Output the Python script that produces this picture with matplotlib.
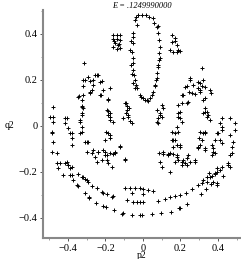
import matplotlib
matplotlib.use("Agg")
import matplotlib.pyplot as plt
from matplotlib.ticker import MultipleLocator

# Poincare section points (p2, q2)
ellipse_p = [-0.037, -0.027, -0.005, 0.016, 0.032, 0.053, 0.059, -0.043, -0.032, -0.053,
             -0.053, -0.053, -0.059, -0.053, -0.053, -0.053, -0.048, -0.043, -0.037, -0.032,
             -0.016, 0.0, 0.021, 0.037, 0.048, 0.053, 0.064, 0.069, 0.075, 0.080,
             0.085, 0.085, 0.091, 0.085, 0.080, 0.075, -0.064, -0.069, -0.064, -0.059,
             -0.053, -0.043, 0.027, 0.011, -0.011, 0.080, 0.091, 0.080, 0.075, 0.064]
ellipse_q = [0.474, 0.483, 0.483, 0.483, 0.474, 0.470, 0.448, 0.461, 0.439, 0.404,
             0.387, 0.361, 0.322, 0.296, 0.274, 0.243, 0.222, 0.200, 0.178, 0.165,
             0.135, 0.122, 0.113, 0.122, 0.135, 0.148, 0.178, 0.200, 0.230, 0.257,
             0.287, 0.317, 0.343, 0.374, 0.404, 0.430, 0.370, 0.330, 0.265, 0.226,
             0.187, 0.165, 0.109, 0.113, 0.126, 0.435, 0.296, 0.265, 0.209, 0.174]

left_island_p = [-0.160, -0.139, -0.123, -0.160, -0.139, -0.123, -0.149, -0.133, -0.160,
                 -0.139, -0.123, -0.155, -0.128]
left_island_q = [0.396, 0.396, 0.396, 0.378, 0.378, 0.374, 0.361, 0.352, 0.343,
                 0.335, 0.339, 0.370, 0.357]

right_island_p = [0.155, 0.171, 0.155, 0.181, 0.144, 0.160, 0.181, 0.197, 0.171, 0.187]
right_island_q = [0.396, 0.383, 0.365, 0.352, 0.330, 0.322, 0.322, 0.326, 0.370, 0.330]

outer_p = [-0.426, -0.389, -0.373, -0.347, -0.325, -0.309, -0.293, -0.347, -0.272, -0.245,
           -0.219, -0.192, -0.160, -0.309, -0.288, -0.251, -0.213, -0.155, -0.107, -0.096,
           -0.069, -0.043, -0.059, -0.085, -0.053, -0.032, -0.016, 0.0, 0.027, 0.053,
           0.0, -0.016, 0.0, 0.080, 0.117, 0.144, 0.171, 0.197, 0.229, 0.261,
           0.293, 0.320, 0.341, 0.368, 0.384, 0.395, 0.427, 0.363, 0.395, 0.336,
           0.309, 0.235, 0.192, 0.149, 0.096, 0.048, -0.016, 0.144, -0.059, -0.005,
           -0.197, -0.112, 0.197, -0.459, -0.453, -0.416, -0.400, -0.389, -0.379, -0.320,
           -0.299, -0.352, -0.288, -0.213, -0.165, 0.411, 0.421, 0.453, 0.464, 0.384,
           0.357, 0.341, 0.315, 0.373, 0.395, 0.352]
outer_q = [-0.213, -0.213, -0.235, -0.209, -0.222, -0.230, -0.244, -0.261, -0.261, -0.270,
           -0.287, -0.296, -0.304, -0.291, -0.313, -0.335, -0.348, -0.365, -0.378, -0.270,
           -0.270, -0.270, -0.291, -0.322, -0.330, -0.330, -0.270, -0.274, -0.278, -0.283,
           -0.296, -0.330, -0.330, -0.326, -0.317, -0.309, -0.304, -0.300, -0.291, -0.274,
           -0.257, -0.235, -0.222, -0.217, -0.209, -0.200, -0.217, -0.252, -0.257, -0.274,
           -0.296, -0.339, -0.357, -0.374, -0.378, -0.383, -0.387, -0.200, -0.387, -0.387,
           -0.352, -0.383, -0.357, -0.161, -0.183, -0.161, -0.170, -0.183, -0.213, -0.222,
           -0.235, -0.257, -0.309, -0.291, -0.309, -0.191, -0.178, -0.170, -0.126, -0.204,
           -0.222, -0.244, -0.248, -0.244, -0.248, -0.204]

sea_p = [-0.485, -0.480, -0.459, -0.379, -0.379, -0.336, -0.299, -0.267, -0.240, -0.245,
         -0.203, -0.192, -0.187, -0.176, -0.160, -0.149, -0.123, -0.096,
         0.304, 0.331, 0.395, 0.464, 0.475, 0.421, 0.373, 0.368, 0.331, 0.304, 0.293,
         0.091, 0.133, 0.160, 0.181, 0.197, 0.208, 0.224, 0.235, 0.251, 0.277,
         0.171, 0.160, 0.181, 0.107, 0.085,
         -0.341, -0.320, -0.283, -0.272, -0.224, -0.187, -0.325, -0.320, -0.325, -0.187,
         -0.176, -0.176, -0.160, -0.091, -0.085, -0.075, -0.091, -0.080, -0.069, -0.059,
         -0.480, -0.480, -0.485, -0.416, -0.416, -0.400, -0.389, -0.379, -0.336, -0.325,
         -0.325, -0.309, -0.293, -0.197, -0.187, -0.176, -0.203, -0.123, -0.299, -0.272,
         -0.256, -0.240, -0.213, -0.203, -0.176, -0.149, -0.219, -0.192, -0.165, -0.096,
         -0.485, -0.443, -0.405, -0.400, -0.379, -0.480,
         0.213, 0.245, 0.261, 0.277, 0.304, 0.331, 0.363, 0.101, 0.107, 0.091,
         0.101, 0.075, 0.080, 0.187, 0.208, 0.235, 0.187, 0.197, 0.208, 0.331,
         0.341, 0.320, 0.347, 0.357, 0.411, 0.421, 0.421, 0.491, 0.491, 0.480,
         0.475, 0.181, 0.187, 0.155, 0.155, 0.171, 0.197, 0.160, 0.144, 0.107,
         0.133, 0.181, 0.187, 0.208, 0.213, 0.240, 0.277, 0.235, 0.101, 0.171,
         0.299, 0.315, 0.320, 0.331, 0.384, 0.400, 0.368, 0.373, 0.384, 0.331,
         0.293, 0.411, 0.464, 0.453, 0.395,
         -0.315, -0.309, -0.293, -0.267, -0.245, -0.229, -0.347, -0.325, -0.283, -0.229,
         -0.187, -0.325, -0.325, -0.192, -0.187, -0.096, -0.085, -0.080, -0.496, -0.405,
         -0.336, -0.176, -0.107, -0.320, -0.283, -0.267, -0.219, -0.213, -0.176, -0.320,
         -0.256, -0.240,
         0.251, 0.224, 0.267, 0.293, 0.315, 0.304, 0.331, 0.357, 0.208, 0.240,
         0.320, 0.197, 0.331, 0.341, 0.075, 0.091, 0.080, 0.187, 0.421, 0.464,
         0.251, 0.304, 0.320, 0.235, 0.293, 0.315]
sea_q = [-0.030, -0.070, -0.117, -0.030, -0.083, -0.030, -0.070, -0.104, -0.113, -0.157,
         -0.113, -0.126, -0.161, -0.039, -0.122, -0.113, -0.087, -0.143,
         -0.026, -0.030, -0.030, -0.039, -0.091, -0.074, -0.096, -0.126, -0.096, -0.083, -0.096,
         -0.157, -0.122, -0.122, -0.135, -0.083, -0.157, -0.161, -0.139, -0.157, -0.157,
         -0.030, -0.061, -0.083, -0.122, -0.117,
         0.130, 0.135, 0.144, 0.157, 0.135, 0.117, 0.087, 0.078, 0.057, 0.065,
         0.057, 0.039, 0.017, 0.100, 0.087, 0.078, 0.057, 0.039, 0.022, 0.013,
         0.039, 0.017, -0.026, 0.035, 0.013, -0.009, -0.030, -0.052, 0.017, -0.004,
         -0.026, -0.070, -0.070, -0.026, -0.030, -0.052, -0.061, -0.091, -0.113, -0.117,
         -0.135, -0.113, -0.104, -0.126, -0.117, -0.117, -0.148, -0.148, -0.178, -0.148,
         -0.113, -0.161, -0.157, -0.170, -0.178, 0.083,
         0.135, 0.148, 0.144, 0.139, 0.148, 0.122, 0.144, 0.091, 0.078, 0.057,
         0.039, 0.017, 0.013, 0.091, 0.100, 0.100, 0.057, 0.035, 0.017, 0.078,
         0.061, 0.057, 0.048, 0.026, 0.013, -0.004, -0.017, 0.013, -0.017, -0.070,
         -0.117, -0.004, -0.026, -0.026, -0.061, -0.061, -0.091, -0.091, -0.117, -0.113,
         -0.126, -0.126, -0.148, -0.170, -0.148, -0.126, -0.148, -0.170, -0.178, -0.157,
         -0.052, -0.061, -0.030, -0.026, -0.061, -0.030, -0.083, -0.113, -0.117, -0.104,
         -0.091, -0.061, -0.178, -0.161, -0.183,
         0.274, 0.200, 0.213, 0.200, 0.222, 0.191, 0.126, 0.113, 0.148, 0.135,
         0.113, 0.083, 0.048, 0.070, 0.048, 0.100, 0.070, 0.048, 0.039, 0.035,
         0.026, 0.026, 0.035, 0.200, 0.196, 0.178, 0.196, 0.157, 0.165, 0.174,
         0.222, 0.222,
         0.200, 0.170, 0.178, 0.191, 0.252, 0.157, 0.170, 0.157, 0.135, 0.104,
         0.113, 0.061, 0.061, 0.039, 0.070, 0.048, 0.035, 0.039, 0.035, 0.035,
         0.209, 0.187, 0.200, 0.174, 0.165, 0.174]

groups = [(ellipse_p, ellipse_q), (left_island_p, left_island_q),
          (right_island_p, right_island_q), (outer_p, outer_q), (sea_p, sea_q)]

plt.rcParams['font.family'] = ['Liberation Serif', 'DejaVu Serif']

fig = plt.figure(figsize=(2.41, 2.59), dpi=100)
ax = fig.add_axes([43 / 241, 21 / 259, 198 / 241, 228 / 259])

for p, q in groups:
    ax.plot(p, q, '+', color='black', markersize=3.3, markeredgewidth=0.7)

ax.set_xlim(-0.533, 0.523)
ax.set_ylim(-0.487, 0.504)

for side in ['top', 'right']:
    ax.spines[side].set_visible(False)
for side in ['left', 'bottom']:
    ax.spines[side].set_color('#888888')
    ax.spines[side].set_linewidth(1.5)

ax.xaxis.set_minor_locator(MultipleLocator(0.1))
ax.yaxis.set_minor_locator(MultipleLocator(0.1))
ax.tick_params(which='major', direction='out', length=2.5, width=0.7, colors='#555555',
               labelcolor='black', labelsize=7.5, pad=1.5)
ax.tick_params(which='minor', direction='out', length=1.3, width=0.5, colors='#777777')

ticks = [-0.4, -0.2, 0, 0.2, 0.4]
labels = ['\u22120.4', '\u22120.2', '0', '0.2', '0.4']
ax.set_xticks(ticks)
ax.set_xticklabels(labels)
ax.set_yticks(ticks)
ax.set_yticklabels(labels)

ax.set_xlabel('p2', fontsize=7, labelpad=-1)
fig.text(9 / 241, 1 - 126 / 259, 'q2', fontsize=7, rotation=0, ha='center', va='center')
ax.set_title('E = .1249990000', fontsize=6, style='italic', pad=1.5)

fig.savefig('out.png', dpi=100)
